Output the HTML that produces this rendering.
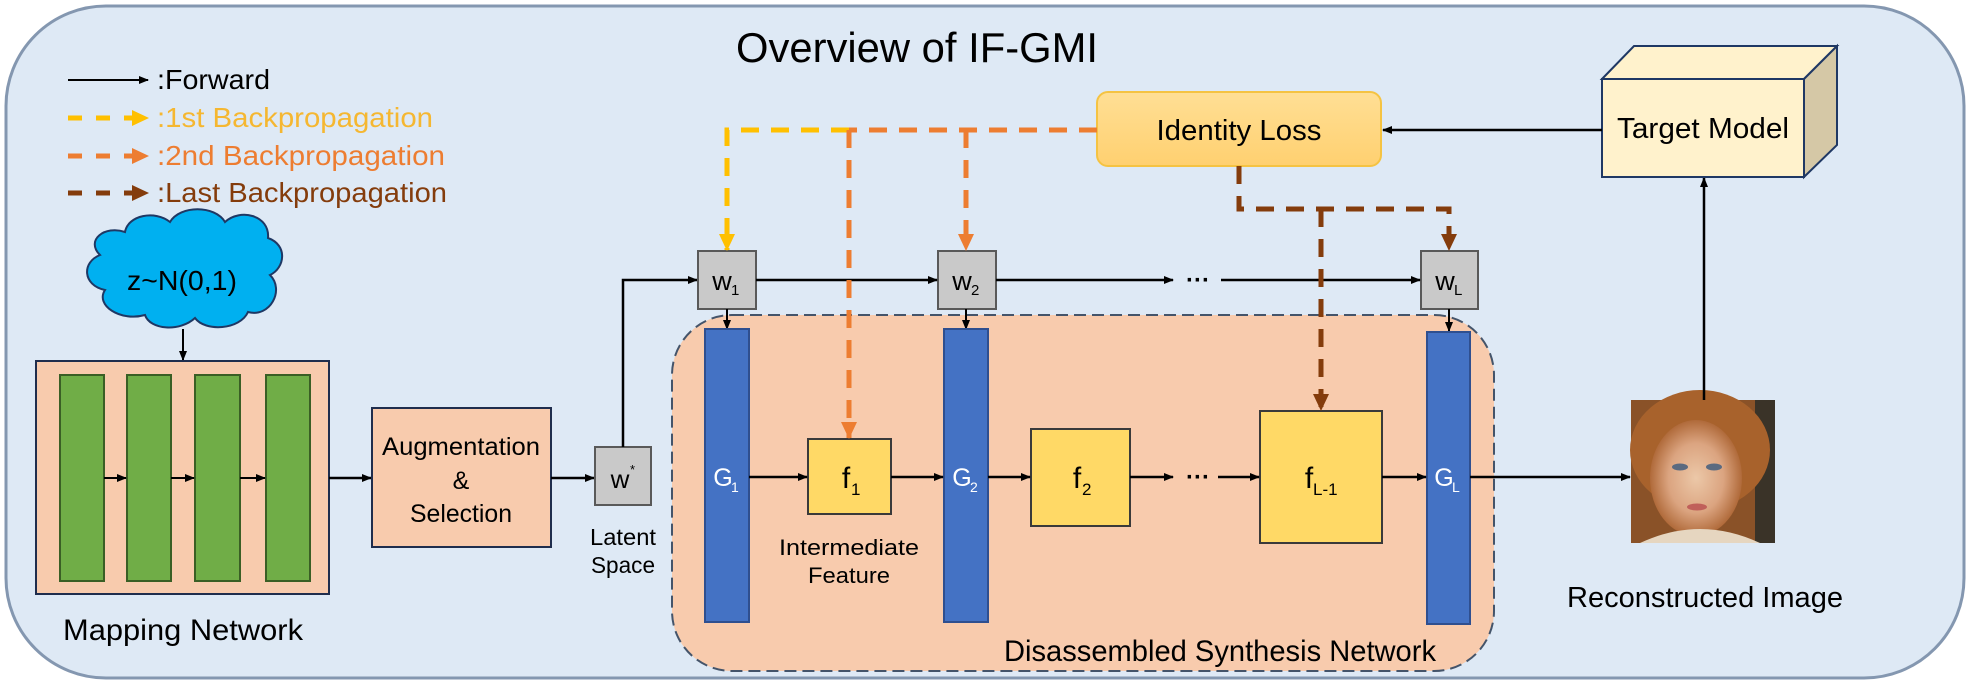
<!DOCTYPE html>
<html><head><meta charset="utf-8"><style>
html,body{margin:0;padding:0;background:#fff;}
svg{display:block;}
text{font-family:"Liberation Sans",sans-serif;}
</style></head><body>
<svg width="1971" height="685" viewBox="0 0 1971 685" xmlns="http://www.w3.org/2000/svg">
<defs>
<marker id="ak" markerWidth="10" markerHeight="10" refX="9" refY="5" orient="auto" markerUnits="userSpaceOnUse"><path d="M0,1 L10,5 L0,9 Z" fill="#000"/></marker>
<marker id="ay" markerWidth="18" markerHeight="18" refX="16" refY="9" orient="auto" markerUnits="userSpaceOnUse"><path d="M0,1 L17,9 L0,17 Z" fill="#FFC000"/></marker>
<marker id="ao" markerWidth="18" markerHeight="18" refX="16" refY="9" orient="auto" markerUnits="userSpaceOnUse"><path d="M0,1 L17,9 L0,17 Z" fill="#ED7D31"/></marker>
<marker id="ab" markerWidth="18" markerHeight="18" refX="16" refY="9" orient="auto" markerUnits="userSpaceOnUse"><path d="M0,1 L17,9 L0,17 Z" fill="#843C0C"/></marker>
<linearGradient id="il" x1="0" y1="0" x2="0" y2="1"><stop offset="0" stop-color="#FFDF95"/><stop offset="1" stop-color="#FFD070"/></linearGradient>
<radialGradient id="face" cx="0.5" cy="0.5" r="0.5"><stop offset="0" stop-color="#ecc8a8"/><stop offset="0.6" stop-color="#dba480"/><stop offset="1" stop-color="#b06a3a"/></radialGradient>
</defs>
<rect x="6" y="6" width="1958" height="672" rx="100" fill="#DEE9F5" stroke="#8497B0" stroke-width="3"/>
<text x="917" y="62" font-size="42" text-anchor="middle" textLength="362" lengthAdjust="spacingAndGlyphs" fill="#000">Overview of IF-GMI</text>

<!-- legend -->
<line x1="68" y1="80" x2="148" y2="80" stroke="#000" stroke-width="2" marker-end="url(#ak)"/>
<text x="157" y="89" font-size="28" textLength="113" lengthAdjust="spacingAndGlyphs">:Forward</text>
<line x1="68" y1="118" x2="148" y2="118" stroke="#FFC000" stroke-width="5" stroke-dasharray="14,14" marker-end="url(#ay)"/>
<text x="157" y="127" font-size="28" textLength="276" lengthAdjust="spacingAndGlyphs" fill="#F5B731">:1st Backpropagation</text>
<line x1="68" y1="156" x2="148" y2="156" stroke="#ED7D31" stroke-width="5" stroke-dasharray="14,14" marker-end="url(#ao)"/>
<text x="157" y="165" font-size="28" textLength="288" lengthAdjust="spacingAndGlyphs" fill="#ED7D31">:2nd Backpropagation</text>
<line x1="68" y1="193" x2="148" y2="193" stroke="#843C0C" stroke-width="5" stroke-dasharray="14,14" marker-end="url(#ab)"/>
<text x="157" y="202" font-size="28" textLength="290" lengthAdjust="spacingAndGlyphs" fill="#843C0C">:Last Backpropagation</text>

<!-- cloud -->
<path d="M100,255 C85,240 105,225 125,232 C128,215 155,210 170,222 C180,205 215,205 225,222 C240,208 270,215 268,238 C288,245 285,268 270,275 C285,290 270,318 248,312 C240,330 205,332 195,318 C180,332 150,330 145,315 C120,322 95,305 105,290 C82,285 82,262 100,255 Z" fill="#00B0F0" stroke="#1F3864" stroke-width="2"/>
<text x="182" y="290" font-size="28" text-anchor="middle" textLength="110" lengthAdjust="spacingAndGlyphs">z~N(0,1)</text>
<line x1="183" y1="329" x2="183" y2="360" stroke="#000" stroke-width="2" marker-end="url(#ak)"/>

<!-- mapping network -->
<rect x="36" y="361" width="293" height="233" fill="#F8CBAD" stroke="#1F2D4D" stroke-width="2"/>
<rect x="60" y="375" width="44" height="206" fill="#70AD47" stroke="#3A5F25" stroke-width="2"/>
<rect x="127" y="375" width="44" height="206" fill="#70AD47" stroke="#3A5F25" stroke-width="2"/>
<rect x="195" y="375" width="45" height="206" fill="#70AD47" stroke="#3A5F25" stroke-width="2"/>
<rect x="266" y="375" width="44" height="206" fill="#70AD47" stroke="#3A5F25" stroke-width="2"/>
<line x1="104" y1="478" x2="126" y2="478" stroke="#000" stroke-width="2" marker-end="url(#ak)"/>
<line x1="171" y1="478" x2="194" y2="478" stroke="#000" stroke-width="2" marker-end="url(#ak)"/>
<line x1="240" y1="478" x2="265" y2="478" stroke="#000" stroke-width="2" marker-end="url(#ak)"/>
<text x="183" y="640" font-size="30" text-anchor="middle" textLength="240" lengthAdjust="spacingAndGlyphs">Mapping Network</text>
<line x1="329" y1="478" x2="371" y2="478" stroke="#000" stroke-width="2.5" marker-end="url(#ak)"/>

<!-- augmentation -->
<rect x="372" y="408" width="179" height="139" fill="#F8CBAD" stroke="#1F2D4D" stroke-width="2"/>
<text x="461" y="455" font-size="25" text-anchor="middle" textLength="158" lengthAdjust="spacingAndGlyphs">Augmentation</text>
<text x="461" y="489" font-size="25" text-anchor="middle">&amp;</text>
<text x="461" y="522" font-size="25" text-anchor="middle" textLength="102" lengthAdjust="spacingAndGlyphs">Selection</text>
<line x1="551" y1="478" x2="594" y2="478" stroke="#000" stroke-width="2.5" marker-end="url(#ak)"/>

<!-- w* -->
<rect x="595" y="447" width="56" height="58" fill="#C9C9C9" stroke="#595959" stroke-width="2"/>
<text x="620" y="488" font-size="26" text-anchor="middle">w</text><text x="630" y="474" font-size="13">*</text>
<text x="623" y="545" font-size="23" text-anchor="middle" textLength="66" lengthAdjust="spacingAndGlyphs">Latent</text>
<text x="623" y="573" font-size="23" text-anchor="middle" textLength="64" lengthAdjust="spacingAndGlyphs">Space</text>
<polyline points="623,447 623,280 697,280" fill="none" stroke="#000" stroke-width="2.5" marker-end="url(#ak)"/>

<!-- synthesis dashed region -->
<rect x="672" y="315" width="822" height="356" rx="60" fill="#F8CBAD" stroke="#44546A" stroke-width="2" stroke-dasharray="12,6"/>
<text x="1220" y="661" font-size="30" text-anchor="middle" textLength="432" lengthAdjust="spacingAndGlyphs">Disassembled Synthesis Network</text>

<!-- w boxes -->
<rect x="698" y="251" width="58" height="58" fill="#C9C9C9" stroke="#595959" stroke-width="2"/>
<text x="722" y="290" font-size="27" text-anchor="middle">w</text><text x="731" y="295" font-size="15">1</text>
<rect x="938" y="251" width="58" height="58" fill="#C9C9C9" stroke="#595959" stroke-width="2"/>
<text x="962" y="290" font-size="27" text-anchor="middle">w</text><text x="971" y="295" font-size="15">2</text>
<rect x="1421" y="251" width="57" height="58" fill="#C9C9C9" stroke="#595959" stroke-width="2"/>
<text x="1445" y="290" font-size="27" text-anchor="middle">w</text><text x="1454" y="295" font-size="15">L</text>
<line x1="756" y1="280" x2="937" y2="280" stroke="#000" stroke-width="2.5" marker-end="url(#ak)"/>
<line x1="996" y1="280" x2="1173" y2="280" stroke="#000" stroke-width="2.5" marker-end="url(#ak)"/>
<text x="1198" y="288" font-size="24" text-anchor="middle" font-weight="bold">···</text>
<line x1="1221" y1="280" x2="1420" y2="280" stroke="#000" stroke-width="2.5" marker-end="url(#ak)"/>
<line x1="727" y1="309" x2="727" y2="329" stroke="#000" stroke-width="2" marker-end="url(#ak)"/>
<line x1="966" y1="309" x2="966" y2="329" stroke="#000" stroke-width="2" marker-end="url(#ak)"/>
<line x1="1449" y1="309" x2="1449" y2="331" stroke="#000" stroke-width="2" marker-end="url(#ak)"/>

<!-- G bars -->
<rect x="705" y="329" width="44" height="293" fill="#4472C4" stroke="#2F4F8F" stroke-width="2"/>
<text x="723" y="486" font-size="25" fill="#fff" text-anchor="middle">G</text><text x="731" y="492" font-size="14" fill="#fff">1</text>
<rect x="944" y="329" width="44" height="293" fill="#4472C4" stroke="#2F4F8F" stroke-width="2"/>
<text x="962" y="486" font-size="25" fill="#fff" text-anchor="middle">G</text><text x="970" y="492" font-size="14" fill="#fff">2</text>
<rect x="1427" y="332" width="43" height="292" fill="#4472C4" stroke="#2F4F8F" stroke-width="2"/>
<text x="1444" y="486" font-size="25" fill="#fff" text-anchor="middle">G</text><text x="1452" y="492" font-size="14" fill="#fff">L</text>

<!-- f boxes -->
<rect x="808" y="439" width="83" height="75" fill="#FFD966" stroke="#3A3A3A" stroke-width="2"/>
<text x="846" y="488" font-size="30" text-anchor="middle">f</text><text x="851" y="495" font-size="17">1</text>
<rect x="1031" y="429" width="99" height="97" fill="#FFD966" stroke="#3A3A3A" stroke-width="2"/>
<text x="1077" y="488" font-size="30" text-anchor="middle">f</text><text x="1082" y="495" font-size="17">2</text>
<rect x="1260" y="411" width="122" height="132" fill="#FFD966" stroke="#3A3A3A" stroke-width="2"/>
<text x="1309" y="488" font-size="30" text-anchor="middle">f</text><text x="1313" y="495" font-size="17">L-1</text>
<text x="849" y="555" font-size="22" text-anchor="middle" textLength="140" lengthAdjust="spacingAndGlyphs">Intermediate</text>
<text x="849" y="583" font-size="22" text-anchor="middle" textLength="82" lengthAdjust="spacingAndGlyphs">Feature</text>

<line x1="749" y1="477" x2="807" y2="477" stroke="#000" stroke-width="2.5" marker-end="url(#ak)"/>
<line x1="891" y1="477" x2="943" y2="477" stroke="#000" stroke-width="2.5" marker-end="url(#ak)"/>
<line x1="988" y1="477" x2="1030" y2="477" stroke="#000" stroke-width="2.5" marker-end="url(#ak)"/>
<line x1="1130" y1="477" x2="1173" y2="477" stroke="#000" stroke-width="2.5" marker-end="url(#ak)"/>
<text x="1198" y="485" font-size="24" text-anchor="middle" font-weight="bold">···</text>
<line x1="1218" y1="477" x2="1259" y2="477" stroke="#000" stroke-width="2.5" marker-end="url(#ak)"/>
<line x1="1382" y1="477" x2="1426" y2="477" stroke="#000" stroke-width="2.5" marker-end="url(#ak)"/>
<line x1="1470" y1="477" x2="1630" y2="477" stroke="#000" stroke-width="2.5" marker-end="url(#ak)"/>

<!-- image -->
<rect x="1631" y="400" width="144" height="143" fill="#8a5228"/>
<rect x="1755" y="400" width="20" height="143" fill="#3a3328"/>
<ellipse cx="1700" cy="450" rx="70" ry="60" fill="#a8622c"/>
<ellipse cx="1696" cy="478" rx="46" ry="58" fill="url(#face)"/>
<ellipse cx="1680" cy="467" rx="8" ry="3.5" fill="#5a6a80"/>
<ellipse cx="1714" cy="467" rx="8" ry="3.5" fill="#5a6a80"/>
<ellipse cx="1697" cy="507" rx="10" ry="3.5" fill="#c0605a"/>
<path d="M1640,543 Q1700,515 1760,543 Z" fill="#e6d6c0"/>
<text x="1705" y="607" font-size="29" text-anchor="middle" textLength="276" lengthAdjust="spacingAndGlyphs">Reconstructed Image</text>
<line x1="1704" y1="400" x2="1704" y2="178" stroke="#000" stroke-width="2.5" marker-end="url(#ak)"/>

<!-- target model -->
<polygon points="1602,79 1634,46 1837,46 1804,79" fill="#FFF2CC" stroke="#1F3864" stroke-width="2"/>
<polygon points="1804,79 1837,46 1837,145 1804,177" fill="#D5C8A6" stroke="#1F3864" stroke-width="2"/>
<rect x="1602" y="79" width="202" height="98" fill="#FFF2CC" stroke="#1F3864" stroke-width="2"/>
<text x="1703" y="138" font-size="29" text-anchor="middle" textLength="172" lengthAdjust="spacingAndGlyphs">Target Model</text>
<line x1="1602" y1="130" x2="1383" y2="130" stroke="#000" stroke-width="2.5" marker-end="url(#ak)"/>

<!-- identity loss -->
<rect x="1097" y="92" width="284" height="74" rx="11" fill="url(#il)" stroke="#F5C342" stroke-width="2"/>
<text x="1239" y="140" font-size="29" text-anchor="middle" textLength="165" lengthAdjust="spacingAndGlyphs">Identity Loss</text>

<!-- backprop dashed -->
<polyline points="849,130 727,130 727,250" fill="none" stroke="#FFC000" stroke-width="5" stroke-dasharray="18,12" marker-end="url(#ay)"/>
<line x1="1097" y1="130" x2="849" y2="130" stroke="#ED7D31" stroke-width="5" stroke-dasharray="18,12"/>
<line x1="849" y1="130" x2="849" y2="438" stroke="#ED7D31" stroke-width="5" stroke-dasharray="18,12" marker-end="url(#ao)"/>
<line x1="966" y1="130" x2="966" y2="250" stroke="#ED7D31" stroke-width="5" stroke-dasharray="18,12" marker-end="url(#ao)"/>
<polyline points="1239,166 1239,209 1449,209 1449,250" fill="none" stroke="#843C0C" stroke-width="5" stroke-dasharray="18,12" marker-end="url(#ab)"/>
<line x1="1321" y1="209" x2="1321" y2="410" stroke="#843C0C" stroke-width="5" stroke-dasharray="18,12" marker-end="url(#ab)"/>
</svg>
</body></html>
